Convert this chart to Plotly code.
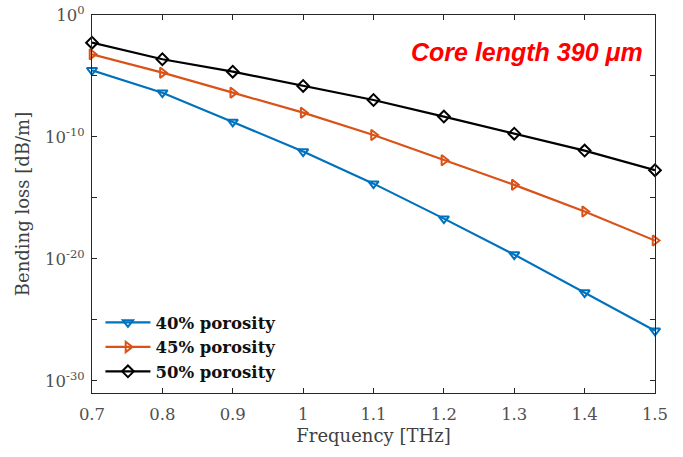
import plotly.graph_objects as go

freq = [0.7, 0.8, 0.9, 1.0, 1.1, 1.2, 1.3, 1.4, 1.5]
log_p40 = [-4.53, -6.37, -8.77, -11.2, -13.83, -16.7, -19.65, -22.76, -25.9]
log_p45 = [-3.22, -4.73, -6.37, -8.01, -9.84, -11.91, -13.93, -16.12, -18.5]
log_p50 = [-2.27, -3.63, -4.65, -5.82, -6.97, -8.33, -9.73, -11.12, -12.73]

names = ["<b>40% porosity</b>", "<b>45% porosity</b>", "<b>50% porosity</b>"]
colors = ["#0072BD", "#D95319", "#000000"]
symbols = ["triangle-down-open", "triangle-right-open", "diamond-open"]

tick_exps = [-30, -25, -20, -15, -10, -5, 0]
tick_vals = [10.0 ** e for e in tick_exps]
tick_text = [("10<sup>%d</sup>" % e) if e % 10 == 0 else "" for e in tick_exps]
x_text = ["0.7", "0.8", "0.9", "1", "1.1", "1.2", "1.3", "1.4", "1.5"]

fig = go.Figure()
for name, logs, c, s in zip(names, [log_p40, log_p45, log_p50], colors, symbols):
    fig.add_trace(go.Scatter(
        x=freq, y=[10.0 ** v for v in logs], name=name, mode="lines+markers",
        line=dict(color=c, width=2.2), cliponaxis=False,
        marker=dict(symbol=s, size=9, color=c, line=dict(color=c, width=2)),
    ))

tick_font = dict(family="DejaVu Serif", size=16.5, color="#505050")
title_font = dict(family="DejaVu Serif", size=18, color="#404040")
fig.update_layout(
    width=683, height=457,
    margin=dict(l=92, r=28, t=15, b=64),
    paper_bgcolor="white", plot_bgcolor="white",
    showlegend=True,
    legend=dict(x=0.015, y=0.01, xanchor="left", yanchor="bottom",
                bgcolor="rgba(255,255,255,0)", borderwidth=0,
                font=dict(family="DejaVu Serif", size=16.5, color="#111111"),
                tracegroupgap=0, itemwidth=45),
    xaxis=dict(range=[0.7, 1.5], tickvals=freq, ticktext=x_text, automargin=False,
               ticks="inside", ticklen=5, tickcolor="#262626", ticklabelstandoff=6,
               showline=True, linecolor="#262626", linewidth=1, mirror="allticks",
               showgrid=False, zeroline=False, tickfont=tick_font,
               title=dict(text="Frequency [THz]", font=title_font, standoff=6)),
    yaxis=dict(type="log", range=[-31, 0], tickvals=tick_vals, ticktext=tick_text,
               automargin=False,
               ticks="inside", ticklen=5, tickcolor="#262626", ticklabelstandoff=3,
               showline=True, linecolor="#262626", linewidth=1, mirror="allticks",
               showgrid=False, zeroline=False, tickfont=tick_font,
               title=dict(text="Bending loss [dB/m]", font=title_font, standoff=10)),
    annotations=[dict(text="<b><i>Core length 390 μm</i></b>", xref="paper", yref="paper",
                      x=0.982, y=0.902, xanchor="right", yanchor="middle", showarrow=False,
                      font=dict(family="Liberation Sans", size=25, color="#ff0000"))],
)
fig.write_html("out.html")
